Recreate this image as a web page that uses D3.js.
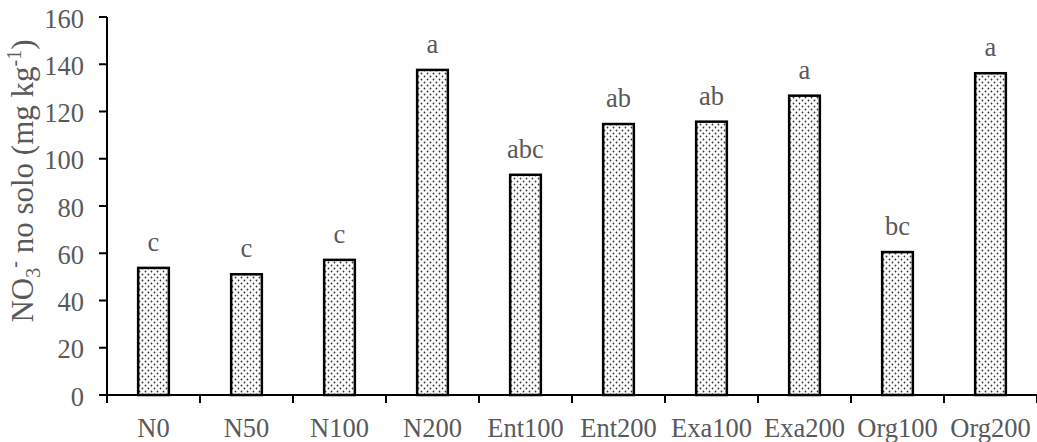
<!DOCTYPE html>
<html>
<head>
<meta charset="utf-8">
<script src="https://cdn.jsdelivr.net/npm/d3@7"></script>
<style>
  body { margin: 0; background: #fff; }
  svg text { font-family: "Liberation Serif", "Times New Roman", serif; fill: #595959; }
</style>
</head>
<body>
<svg id="chart" width="1037" height="442"></svg>
<script>
// treatments and soil nitrate values (mg/kg)
const categories = ['N0', 'N50', 'N100', 'N200', 'Ent100', 'Ent200', 'Exa100', 'Exa200', 'Org100', 'Org200']
const values = [53.8, 51.1, 57.2, 137.6, 93.2, 114.7, 115.7, 126.7, 60.5, 136.2]
const letters = ['c', 'c', 'c', 'a', 'abc', 'ab', 'ab', 'a', 'bc', 'a']
const yTicks = [0, 20, 40, 60, 80, 100, 120, 140, 160]

const data = categories.map((c, i) => ({cat: c, value: values[i], letter: letters[i]}))

const svg = d3.select('#chart')
const mLeft = 107, mRight = 1037, mTop = 17, mBottom = 395

// pattern fill for bars (small dots)
const defs = svg.append('defs')
const pat = defs.append('pattern')
  .attr('id', 'dots')
  .attr('patternUnits', 'userSpaceOnUse')
  .attr('width', 6).attr('height', 6)
pat.append('rect').attr('width', 6).attr('height', 6).attr('fill', '#fff')
pat.append('circle').attr('cx', 1.5).attr('cy', 1.5).attr('r', 0.9).attr('fill', '#333')
pat.append('circle').attr('cx', 4.5).attr('cy', 4.5).attr('r', 0.9).attr('fill', '#333')

const x = d3.scaleBand()
  .domain(categories)
  .range([mLeft, mRight])
  .paddingInner(0.67)
  .paddingOuter(0.335)

const y = d3.scaleLinear().domain([0, 160]).range([mBottom, mTop])

const step = x.step()

// bars
svg.append('g').selectAll('rect')
  .data(data)
  .join('rect')
  .attr('x', d => x(d.cat))
  .attr('y', d => y(d.value))
  .attr('width', x.bandwidth())
  .attr('height', d => y(0) - y(d.value))
  .attr('fill', 'url(#dots)')
  .attr('stroke', '#000')
  .attr('stroke-width', 2.5)

// significance letters
svg.append('g').selectAll('text')
  .data(data)
  .join('text')
  .attr('x', d => x(d.cat) + x.bandwidth() / 2)
  .attr('y', d => y(d.value) - 17)
  .attr('text-anchor', 'middle')
  .attr('font-size', 26.5)
  .text(d => d.letter)

// y axis
const yAxis = svg.append('g')
yAxis.append('line')
  .attr('x1', mLeft).attr('x2', mLeft)
  .attr('y1', y(160)).attr('y2', y(0))
  .attr('stroke', '#000').attr('stroke-width', 2)
yAxis.selectAll('line.tick')
  .data(yTicks)
  .join('line')
  .attr('class', 'tick')
  .attr('x1', mLeft - 8).attr('x2', mLeft)
  .attr('y1', d => y(d)).attr('y2', d => y(d))
  .attr('stroke', '#000').attr('stroke-width', 2)
yAxis.selectAll('text')
  .data(yTicks)
  .join('text')
  .attr('x', 84)
  .attr('y', d => y(d))
  .attr('dy', '0.4em')
  .attr('text-anchor', 'end')
  .attr('font-size', 26.5)
  .text(d => d)

// x axis with ticks between categories
const xAxis = svg.append('g')
xAxis.append('line')
  .attr('x1', mLeft - 8).attr('x2', mRight)
  .attr('y1', y(0)).attr('y2', y(0))
  .attr('stroke', '#000').attr('stroke-width', 2)
const bounds = d3.range(categories.length + 1).map(i => mLeft + i * step)
xAxis.selectAll('line.tick')
  .data(bounds)
  .join('line')
  .attr('class', 'tick')
  .attr('x1', d => d).attr('x2', d => d)
  .attr('y1', y(0)).attr('y2', y(0) + 8)
  .attr('stroke', '#000').attr('stroke-width', 2)
xAxis.selectAll('text')
  .data(categories)
  .join('text')
  .attr('x', d => x(d) + x.bandwidth() / 2)
  .attr('y', 437)
  .attr('text-anchor', 'middle')
  .attr('font-size', 26.5)
  .text(d => d)

// y axis title
const title = svg.append('text')
  .attr('transform', 'translate(33,181) rotate(-90)')
  .attr('text-anchor', 'middle')
  .attr('font-size', 31)
title.append('tspan').text('NO')
title.append('tspan').attr('font-size', 20).attr('dy', 7).text('3')
title.append('tspan').attr('font-size', 20).attr('dy', -19).text('-')
title.append('tspan').attr('dy', 12).text(' no solo (mg kg')
title.append('tspan').attr('font-size', 20).attr('dy', -12).text('-1')
title.append('tspan').attr('dy', 12).text(')')
</script>
</body>
</html>
